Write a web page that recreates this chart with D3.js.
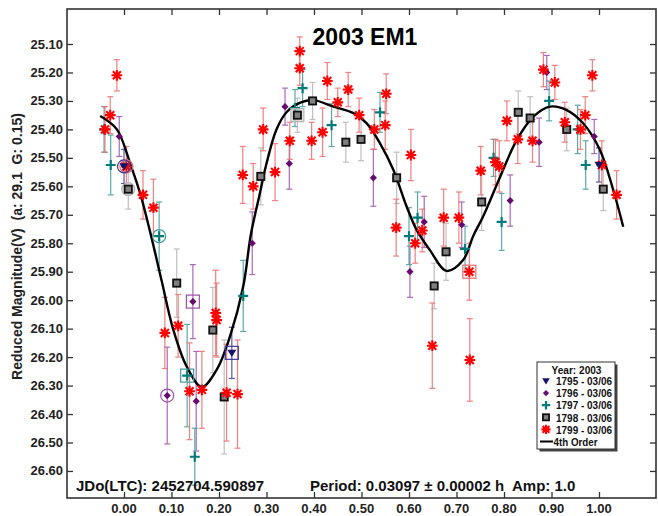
<!DOCTYPE html>
<html><head><meta charset="utf-8">
<script src="https://cdn.jsdelivr.net/npm/d3@7"></script>
<style>body{margin:0;background:#fff}</style>
</head><body>
<svg id="chart" width="658" height="516"></svg>
<script>
// ---------- DATA ----------
const xTickValues = [0.0, 0.1, 0.2, 0.3, 0.4, 0.5, 0.6, 0.7, 0.8, 0.9, 1.0];
const yTickValues = [25.1, 25.2, 25.3, 25.4, 25.5, 25.6, 25.7, 25.8, 25.9, 26.0, 26.1, 26.2, 26.3, 26.4, 26.5, 26.6];
const seriesNames = ["1795 - 03/06", "1796 - 03/06", "1797 - 03/06", "1798 - 03/06", "1799 - 03/06"];

// [phase, reduced magnitude, error, flag]  flag: 1 = circled (first), 2 = boxed (last)
const s1795 = [
  [0.000, 25.53, 0.06, 1], [0.227, 26.185, 0.09, 2], [1.000, 25.525, 0.06, 0]
];
const s1796 = [
  [-0.010, 25.425, 0.07, 0], [0.091, 26.335, 0.17, 1], [0.145, 26.005, 0.13, 2],
  [0.152, 26.355, 0.175, 0], [0.270, 25.80, 0.11, 0], [0.339, 25.32, 0.065, 0],
  [0.348, 25.52, 0.09, 0], [0.525, 25.57, 0.10, 0], [0.602, 25.90, 0.09, 0],
  [0.632, 25.725, 0.09, 0], [0.711, 25.735, 0.08, 0], [0.813, 25.65, 0.09, 0],
  [0.874, 25.445, 0.085, 0], [0.890, 25.20, 0.06, 0], [0.990, 25.425, 0.06, 0]
];
const s1797 = [
  [-0.042, 25.40, 0.08, 0], [-0.028, 25.525, 0.105, 0], [0.074, 25.775, 0.12, 1],
  [0.133, 26.265, 0.18, 2], [0.149, 26.55, 0.10, 0], [0.251, 25.985, 0.125, 0],
  [0.360, 25.325, 0.065, 0], [0.376, 25.255, 0.065, 0], [0.437, 25.385, 0.075, 0],
  [0.539, 25.34, 0.07, 0], [0.600, 25.775, 0.10, 0], [0.618, 25.71, 0.09, 0],
  [0.718, 25.82, 0.08, 0], [0.778, 25.50, 0.065, 0], [0.795, 25.725, 0.10, 0],
  [0.895, 25.30, 0.07, 0], [0.955, 25.40, 0.085, 0], [0.972, 25.525, 0.085, 0]
];
const s1798 = [
  [0.009, 25.61, 0.07, 1], [0.111, 25.94, 0.12, 0], [0.187, 26.105, 0.15, 0],
  [0.211, 26.34, 0.20, 0], [0.288, 25.565, 0.10, 0], [0.365, 25.35, 0.06, 2],
  [0.397, 25.30, 0.065, 0], [0.467, 25.445, 0.07, 0], [0.499, 25.435, 0.075, 0],
  [0.574, 25.57, 0.09, 0], [0.653, 25.95, 0.08, 0], [0.678, 25.83, 0.10, 0],
  [0.753, 25.655, 0.10, 0], [0.830, 25.34, 0.075, 0], [0.855, 25.36, 0.075, 0],
  [0.932, 25.40, 0.075, 0], [1.009, 25.61, 0.075, 0]
];
const s1799 = [
  [-0.040, 25.40, 0.08, 0], [-0.029, 25.35, 0.065, 0], [-0.015, 25.21, 0.055, 0],
  [0.005, 25.53, 0.07, 1], [0.040, 25.63, 0.085, 0], [0.062, 25.675, 0.10, 0],
  [0.086, 26.115, 0.125, 0], [0.114, 26.09, 0.11, 0], [0.138, 26.32, 0.17, 0],
  [0.164, 26.315, 0.135, 0], [0.193, 26.045, 0.15, 0], [0.195, 26.07, 0.13, 0],
  [0.216, 26.325, 0.17, 0], [0.239, 26.33, 0.19, 0], [0.250, 25.56, 0.10, 0],
  [0.272, 25.60, 0.08, 0], [0.293, 25.40, 0.075, 0], [0.318, 25.55, 0.10, 0],
  [0.349, 25.44, 0.065, 0], [0.370, 25.125, 0.05, 0], [0.370, 25.185, 0.06, 0],
  [0.395, 25.44, 0.065, 0], [0.418, 25.41, 0.085, 0], [0.428, 25.23, 0.065, 0],
  [0.450, 25.305, 0.05, 0], [0.472, 25.26, 0.06, 0], [0.495, 25.35, 0.06, 0],
  [0.527, 25.40, 0.07, 0], [0.550, 25.385, 0.085, 0], [0.552, 25.275, 0.07, 0],
  [0.573, 25.745, 0.10, 0], [0.604, 25.49, 0.09, 0], [0.613, 25.80, 0.07, 0],
  [0.628, 25.755, 0.075, 0], [0.649, 26.16, 0.15, 0], [0.673, 25.71, 0.10, 0],
  [0.705, 25.71, 0.09, 0], [0.727, 25.90, 0.10, 2], [0.728, 26.21, 0.145, 0],
  [0.751, 25.545, 0.085, 0], [0.782, 25.515, 0.08, 0], [0.790, 25.53, 0.09, 0],
  [0.806, 25.37, 0.07, 0], [0.829, 25.435, 0.085, 0], [0.860, 25.44, 0.075, 0],
  [0.883, 25.19, 0.06, 0], [0.907, 25.235, 0.06, 0], [0.928, 25.375, 0.07, 0],
  [0.961, 25.40, 0.07, 0], [0.971, 25.35, 0.065, 0], [0.986, 25.21, 0.055, 0],
  [1.006, 25.525, 0.085, 0], [1.037, 25.63, 0.085, 0]
];
// 4th-order fit curve [phase, mag]
const curve4th = [
  [-0.05, 25.353], [-0.015, 25.40], [0.013, 25.52], [0.034, 25.625], [0.055, 25.76],
  [0.079, 25.93], [0.104, 26.105], [0.132, 26.233], [0.164, 26.305], [0.195, 26.245],
  [0.223, 26.128], [0.251, 25.952], [0.267, 25.77], [0.286, 25.625], [0.300, 25.52],
  [0.321, 25.40], [0.343, 25.338], [0.371, 25.306], [0.399, 25.297], [0.441, 25.32],
  [0.483, 25.343], [0.511, 25.379], [0.539, 25.449], [0.567, 25.542], [0.595, 25.671],
  [0.616, 25.753], [0.644, 25.824], [0.679, 25.897], [0.714, 25.859], [0.735, 25.775],
  [0.756, 25.706], [0.792, 25.566], [0.827, 25.437], [0.862, 25.355], [0.897, 25.32],
  [0.932, 25.332], [0.967, 25.379], [1.002, 25.472], [1.030, 25.613], [1.051, 25.742]
];
const titleText = "2003 EM1";
const yLabelText = "Reduced Magnitude(V)  (a: 29.1  G: 0.15)";
const jdText = "JDo(LTC): 2452704.590897";
const periodText = "Period: 0.03097 \u00b1 0.00002 h  Amp: 1.0";
const legendTitle = "Year: 2003";
const fitName = "4th Order";

// ---------- DRAWING ----------
const FONT = "'Liberation Sans', Arial, Helvetica, sans-serif";
const svg = d3.select("#chart");
const L = 67, R = 656, T = 9, B = 498;
const x = d3.scaleLinear().domain([-0.12, 1.12]).range([L, R]);
const y = d3.scaleLinear().domain([24.977, 26.695]).range([T, B]);

const seriesStyle = [
  {data: s1795, color: "#13136b", bar: "#3c3c9a", shape: "tri"},
  {data: s1796, color: "#660a70", bar: "#9c4fae", shape: "diamond"},
  {data: s1797, color: "#007a7a", bar: "#3f9c9c", shape: "plus"},
  {data: s1798, color: "#808080", bar: "#b5b5b5", shape: "square"},
  {data: s1799, color: "#ff0000", bar: "#f06a6a", shape: "star"}
];

// axes (ticks inside, all four sides)
const fmt = d3.format(".2f");
const tk = 6;
svg.append("g").attr("transform", `translate(0,${B})`)
  .call(d3.axisTop(x).tickValues(xTickValues).tickSize(tk).tickFormat(""))
  .call(g => g.select(".domain").remove());
svg.append("g").attr("transform", `translate(0,${T})`)
  .call(d3.axisBottom(x).tickValues(xTickValues).tickSize(tk).tickFormat(""))
  .call(g => g.select(".domain").remove());
svg.append("g").attr("transform", `translate(${L},0)`)
  .call(d3.axisRight(y).tickValues(yTickValues).tickSize(tk).tickFormat(""))
  .call(g => g.select(".domain").remove());
svg.append("g").attr("transform", `translate(${R},0)`)
  .call(d3.axisLeft(y).tickValues(yTickValues).tickSize(tk).tickFormat(""))
  .call(g => g.select(".domain").remove());
svg.selectAll(".tick line").attr("stroke", "#333").attr("stroke-width", 1.3);

// tick labels
svg.append("g").selectAll("text").data(xTickValues).join("text")
  .attr("x", d => x(d)).attr("y", 513).attr("text-anchor", "middle")
  .attr("font-family", FONT).attr("font-weight", "bold").attr("font-size", 13)
  .attr("fill", "#222").text(d => fmt(d));
svg.append("g").selectAll("text").data(yTickValues).join("text")
  .attr("x", 63).attr("y", d => y(d) + 4.5).attr("text-anchor", "end")
  .attr("font-family", FONT).attr("font-weight", "bold").attr("font-size", 13)
  .attr("fill", "#222").text(d => fmt(d));

// frame
svg.append("rect").attr("x", L).attr("y", T).attr("width", R - L).attr("height", B - T)
  .attr("fill", "none").attr("stroke", "#333").attr("stroke-width", 1.6);

// error bars
const cap = 3;
seriesStyle.forEach(s => {
  const g = svg.append("g").attr("stroke", s.bar).attr("stroke-width", 1.2).attr("opacity", 0.85);
  s.data.forEach(d => {
    const cx = x(d[0]), y1 = y(d[1] - d[2]), y2 = y(d[1] + d[2]);
    g.append("line").attr("x1", cx).attr("x2", cx).attr("y1", y1).attr("y2", y2);
    g.append("line").attr("x1", cx - cap).attr("x2", cx + cap).attr("y1", y1).attr("y2", y1);
    g.append("line").attr("x1", cx - cap).attr("x2", cx + cap).attr("y1", y2).attr("y2", y2);
  });
});

// fit curve
svg.append("path").datum(curve4th)
  .attr("d", d3.line().x(d => x(d[0])).y(d => y(d[1])).curve(d3.curveCatmullRom.alpha(0.5)))
  .attr("fill", "none").attr("stroke", "#000").attr("stroke-width", 2.4);

// marker drawing
function drawMarker(g, shape, color, cx, cy, scale) {
  const k = scale || 1;
  if (shape === "tri") {
    const a = 4.5 * k;
    g.append("path").attr("d", `M${cx - a},${cy - a * 0.7}L${cx + a},${cy - a * 0.7}L${cx},${cy + a * 0.9}Z`)
      .attr("fill", color);
  } else if (shape === "diamond") {
    const a = 3.6 * k;
    g.append("path").attr("d", `M${cx},${cy - a}L${cx + a},${cy}L${cx},${cy + a}L${cx - a},${cy}Z`)
      .attr("fill", color);
  } else if (shape === "plus") {
    const a = 5 * k;
    g.append("path").attr("d", `M${cx - a},${cy}L${cx + a},${cy}M${cx},${cy - a}L${cx},${cy + a}`)
      .attr("stroke", color).attr("stroke-width", 2.2).attr("fill", "none");
  } else if (shape === "square") {
    const a = 3.6 * k;
    g.append("rect").attr("x", cx - a).attr("y", cy - a).attr("width", 2 * a).attr("height", 2 * a)
      .attr("fill", color).attr("stroke", "#111").attr("stroke-width", 1.8);
  } else if (shape === "star") {
    const a = 5.4 * k, b = 4.0 * k;
    g.append("path").attr("d",
      `M${cx - a},${cy}L${cx + a},${cy}M${cx},${cy - a}L${cx},${cy + a}` +
      `M${cx - b},${cy - b}L${cx + b},${cy + b}M${cx - b},${cy + b}L${cx + b},${cy - b}`)
      .attr("stroke", color).attr("stroke-width", 2.1).attr("fill", "none");
    g.append("circle").attr("cx", cx).attr("cy", cy).attr("r", 1.6 * k).attr("fill", color);
  }
}

// markers + first/last rings
const order = [1, 2, 3, 4, 0];
order.forEach(i => {
  const s = seriesStyle[i];
  const g = svg.append("g");
  s.data.forEach(d => {
    const cx = x(d[0]), cy = y(d[1]);
    if (d[3] === 1) {
      g.append("circle").attr("cx", cx).attr("cy", cy).attr("r", 6.5)
        .attr("fill", i === 3 ? "#d0d0d0" : "none").attr("fill-opacity", 0.6)
        .attr("stroke", s.bar).attr("stroke-width", 1.2);
    } else if (d[3] === 2) {
      g.append("rect").attr("x", cx - 6.5).attr("y", cy - 6.5).attr("width", 13).attr("height", 13)
        .attr("fill", i === 3 ? "#d0d0d0" : "none").attr("fill-opacity", 0.6)
        .attr("stroke", s.bar).attr("stroke-width", 1.2);
    }
    drawMarker(g, s.shape, s.color, cx, cy);
  });
});

// title
svg.append("text").attr("x", 365).attr("y", 45).attr("text-anchor", "middle")
  .attr("font-family", FONT).attr("font-weight", "bold").attr("font-size", 23)
  .attr("fill", "#000").text(titleText);

// y label
svg.append("text").attr("transform", "translate(22,246.5) rotate(-90)").attr("text-anchor", "middle")
  .attr("font-family", FONT).attr("font-weight", "bold").attr("font-size", 14)
  .attr("fill", "#222").style("white-space", "pre").text(yLabelText);

// bottom info texts
svg.append("text").attr("x", 76).attr("y", 490.5)
  .attr("font-family", FONT).attr("font-weight", "bold").attr("font-size", 15)
  .attr("fill", "#111").text(jdText);
svg.append("text").attr("x", 310).attr("y", 490.5)
  .attr("font-family", FONT).attr("font-weight", "bold").attr("font-size", 15)
  .attr("fill", "#111").style("white-space", "pre").text(periodText);

// legend
const lg = svg.append("g");
const lx = 537, ly = 362, lw = 78, lh = 87;
lg.append("rect").attr("x", lx + 2.5).attr("y", ly + 2.5).attr("width", lw).attr("height", lh).attr("fill", "#444");
lg.append("rect").attr("x", lx).attr("y", ly).attr("width", lw).attr("height", lh)
  .attr("fill", "#fff").attr("stroke", "#333").attr("stroke-width", 1);
lg.append("text").attr("x", lx + 39.5).attr("y", ly + 11.5).attr("text-anchor", "middle")
  .attr("font-family", FONT).attr("font-weight", "bold").attr("font-size", 11.5)
  .attr("textLength", 50).attr("lengthAdjust", "spacingAndGlyphs")
  .attr("fill", "#111").text(legendTitle);
seriesNames.forEach((name, i) => {
  const cy = ly + 19 + i * 12.1;
  drawMarker(lg, seriesStyle[i].shape, seriesStyle[i].color, lx + 9, cy, 0.85);
  lg.append("text").attr("x", lx + 19).attr("y", cy + 4.2)
    .attr("font-family", FONT).attr("font-weight", "bold").attr("font-size", 11.5)
    .attr("textLength", 56).attr("lengthAdjust", "spacingAndGlyphs")
    .attr("fill", "#111").text(name);
});
const fy = ly + 19 + 5 * 12.1;
lg.append("line").attr("x1", lx + 3).attr("x2", lx + 16).attr("y1", fy).attr("y2", fy)
  .attr("stroke", "#000").attr("stroke-width", 2);
lg.append("text").attr("x", lx + 16.5).attr("y", fy + 4.2)
  .attr("font-family", FONT).attr("font-weight", "bold").attr("font-size", 11.5)
  .attr("textLength", 44).attr("lengthAdjust", "spacingAndGlyphs")
  .attr("fill", "#111").text(fitName);
</script>
</body></html>
